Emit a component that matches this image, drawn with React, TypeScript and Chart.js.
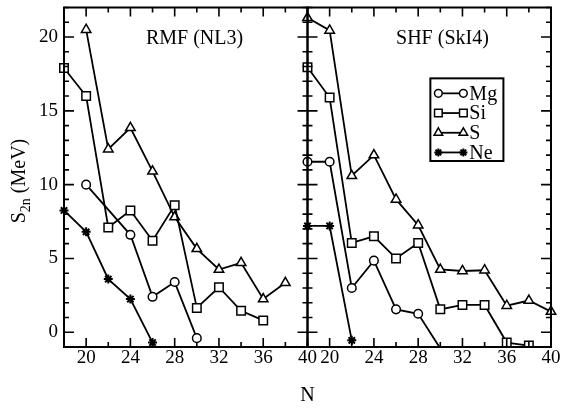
import React, { useEffect, useRef } from 'react';
import { Chart, registerables } from 'chart.js';
import { drawPoint } from 'chart.js/helpers';

Chart.register(...registerables);

// ---------------- data ----------------
const NEUTRONS = [18, 20, 22, 24, 26, 28, 30, 32, 34, 36, 38, 40];
const SPECIES = ['Mg', 'Si', 'S', 'Ne'];

// RMF (NL3) panel
const RMF_MG = [null, 10.0, null, 6.6, 2.4, 3.4, -0.4, null, null, null, null, null];
const RMF_SI = [17.9, 16.0, 7.1, 8.25, 6.2, 8.6, 1.65, 3.05, 1.45, 0.8, null, null];
const RMF_S = [null, 20.5, 12.4, 13.85, 10.9, 7.8, 5.65, 4.25, 4.7, 2.25, 3.35, null];
const RMF_NE = [8.25, 6.8, 3.6, 2.25, -0.7, null, null, null, null, null, null, null];

// SHF (SkI4) panel
const SHF_MG = [11.55, 11.55, 3.0, 4.85, 1.55, 1.25, -1.1, null, null, null, null, null];
const SHF_SI = [17.95, 15.9, 6.05, 6.5, 5.0, 6.05, 1.55, 1.85, 1.85, -0.7, -0.9, null];
const SHF_S = [21.3, 20.45, 10.6, 12.0, 9.0, 7.25, 4.25, 4.15, 4.2, 1.8, 2.15, 1.4];
const SHF_NE = [7.2, 7.2, -0.55, null, null, null, null, null, null, null, null, null];

const X_TICK_LABELS = [20, 24, 28, 32, 36, 40];
const Y_TICK_LABELS = [0, 5, 10, 15, 20];
const PANEL_TITLES = ['RMF (NL3)', 'SHF (SkI4)'];
const X_TITLE = 'N';
const Y_TITLE_MAIN = 'S';
const Y_TITLE_SUB = '2n';
const Y_TITLE_UNIT = ' (MeV)';

const FONT = '"Liberation Serif", "Times New Roman", serif';

const MARKERS: Record<string, { style: string; r: number; bw: number }> = {
  Mg: { style: 'circle', r: 4.3, bw: 1.5 },
  Si: { style: 'rect', r: 6, bw: 1.5 },
  S: { style: 'triangle', r: 5.5, bw: 1.5 },
  Ne: { style: 'star', r: 4.5, bw: 2 },
};

const PANELS = [
  { axis: 'xL', series: [RMF_MG, RMF_SI, RMF_S, RMF_NE] },
  { axis: 'xR', series: [SHF_MG, SHF_SI, SHF_S, SHF_NE] },
];

const Y_MIN = -1;
const Y_MAX = 22;

function buildDatasets() {
  const out: any[] = [];
  PANELS.forEach((panel) => {
    panel.series.forEach((vals, i) => {
      const sp = SPECIES[i];
      const m = MARKERS[sp];
      out.push({
        label: sp,
        xAxisID: panel.axis,
        yAxisID: 'y',
        data: NEUTRONS.map((n, k) => ({ x: n, y: vals[k] })),
        borderColor: '#000',
        borderWidth: 1.8,
        pointStyle: m.style,
        pointRadius: (c: any) => (c.raw && c.raw.y != null && c.raw.y < Y_MIN ? 0 : m.r),
        pointBorderWidth: m.bw,
        pointBackgroundColor: '#fff',
        pointBorderColor: '#000',
        spanGaps: true,
        tension: 0,
        clip: { left: false, right: false, top: 0, bottom: 0 },
      });
    });
  });
  return out;
}

const framePlugin = {
  id: 'framePlugin',
  afterDraw(chart: any) {
    const ctx = chart.ctx as CanvasRenderingContext2D;
    const y = chart.scales.y;
    ctx.save();
    ctx.strokeStyle = '#000';
    ctx.fillStyle = '#000';
    // frames and ticks
    ['xL', 'xR'].forEach((id) => {
      const xs = chart.scales[id];
      const L = xs.left, R = xs.right, T = y.top, B = y.bottom;
      ctx.lineWidth = 1.6;
      ctx.beginPath();
      xs.ticks.forEach((t: any) => {
        const px = xs.getPixelForValue(t.value);
        const len = X_TICK_LABELS.includes(t.value) ? 9 : 5;
        ctx.moveTo(px, B); ctx.lineTo(px, B - len);
        ctx.moveTo(px, T); ctx.lineTo(px, T + len);
      });
      y.ticks.forEach((t: any) => {
        const py = y.getPixelForValue(t.value);
        const len = Y_TICK_LABELS.includes(t.value) ? 10 : 5;
        ctx.moveTo(L, py); ctx.lineTo(L + len, py);
        ctx.moveTo(R, py); ctx.lineTo(R - len, py);
      });
      ctx.stroke();
      ctx.lineWidth = 2;
      ctx.strokeRect(L, T, R - L, B - T);
    });

    // panel titles
    const xL = chart.scales.xL, xR = chart.scales.xR;
    ctx.font = `20px ${FONT}`;
    ctx.textBaseline = 'middle';
    ctx.textAlign = 'left';
    ctx.fillText(PANEL_TITLES[0], xL.getPixelForValue(25.4), y.getPixelForValue(19.9));
    ctx.fillText(PANEL_TITLES[1], xR.getPixelForValue(26.0), y.getPixelForValue(19.9));

    // legend
    const lx0 = xR.getPixelForValue(29.1), lx1 = xR.getPixelForValue(35.7);
    const ly0 = y.getPixelForValue(17.2), ly1 = y.getPixelForValue(11.6);
    ctx.fillStyle = '#fff';
    ctx.fillRect(lx0, ly0, lx1 - lx0, ly1 - ly0);
    ctx.lineWidth = 2;
    ctx.strokeRect(lx0, ly0, lx1 - lx0, ly1 - ly0);
    SPECIES.forEach((sp, i) => {
      const m = MARKERS[sp];
      const ry = ly0 + 15 + i * 19.7;
      const a = lx0 + 8, b = lx0 + 33;
      ctx.strokeStyle = '#000';
      ctx.lineWidth = 1.8;
      ctx.beginPath();
      ctx.moveTo(a, ry); ctx.lineTo(b, ry);
      ctx.stroke();
      [a, b].forEach((px) => {
        ctx.fillStyle = '#fff';
        ctx.strokeStyle = '#000';
        ctx.lineWidth = m.bw;
        drawPoint(ctx, { pointStyle: m.style, radius: m.r * 0.9, rotation: 0, borderWidth: m.bw } as any, px, ry);
      });
      ctx.fillStyle = '#000';
      ctx.font = `20px ${FONT}`;
      ctx.textAlign = 'left';
      ctx.textBaseline = 'middle';
      ctx.fillText(sp, lx0 + 39, ry + 1);
    });

    // x title
    ctx.fillStyle = '#000';
    ctx.font = `20px ${FONT}`;
    ctx.textAlign = 'center';
    ctx.textBaseline = 'middle';
    ctx.fillText(X_TITLE, (chart.chartArea.left + chart.chartArea.right) / 2, 396);

    // y title (rotated, with subscript)
    ctx.save();
    ctx.translate(25, 181);
    ctx.rotate(-Math.PI / 2);
    ctx.textAlign = 'left';
    ctx.textBaseline = 'alphabetic';
    ctx.font = `20px ${FONT}`;
    const wS = ctx.measureText(Y_TITLE_MAIN).width;
    const wU = ctx.measureText(Y_TITLE_UNIT).width;
    ctx.font = `14px ${FONT}`;
    const wSub = ctx.measureText(Y_TITLE_SUB).width;
    let x0 = -(wS + wSub + wU) / 2;
    ctx.font = `20px ${FONT}`;
    ctx.fillText(Y_TITLE_MAIN, x0, 0);
    x0 += wS;
    ctx.font = `14px ${FONT}`;
    ctx.fillText(Y_TITLE_SUB, x0, 5);
    x0 += wSub;
    ctx.font = `20px ${FONT}`;
    ctx.fillText(Y_TITLE_UNIT, x0, 0);
    ctx.restore();

    ctx.restore();
  },
};

function xScale() {
  return {
    type: 'linear',
    position: 'bottom',
    stack: 'panels',
    stackWeight: 1,
    min: 18,
    max: 40,
    grid: { display: false, drawTicks: false },
    border: { display: false },
    ticks: {
      stepSize: 2,
      autoSkip: false,
      maxRotation: 0,
      minRotation: 0,
      padding: 0,
      color: '#000',
      font: { family: FONT, size: 19 },
      callback: (v: any) => (X_TICK_LABELS.includes(Number(v)) ? String(v) : ''),
    },
    afterFit: (s: any) => {
      s.height = 62;
      s.paddingLeft = 0;
      s.paddingRight = 0;
    },
  };
}

export default function App() {
  const ref = useRef<HTMLCanvasElement | null>(null);
  useEffect(() => {
    if (!ref.current) return;
    const chart = new Chart(ref.current, {
      type: 'line',
      data: { datasets: buildDatasets() },
      options: {
        animation: false,
        responsive: false,
        devicePixelRatio: 1,
        layout: { padding: { left: 0, right: 10, top: 5, bottom: 0 } },
        plugins: { legend: { display: false }, tooltip: { enabled: false } },
        scales: {
          xL: xScale(),
          xR: xScale(),
          y: {
            type: 'linear',
            position: 'left',
            min: Y_MIN,
            max: Y_MAX,
            grid: { display: false, drawTicks: false },
            border: { display: false },
            ticks: {
              stepSize: 1,
              autoSkip: false,
              padding: 6,
              color: '#000',
              font: { family: FONT, size: 19 },
              callback: (v: any) => (Y_TICK_LABELS.includes(Number(v)) ? String(v) : ''),
            },
            afterFit: (s: any) => {
              s.width = 64;
              s.paddingTop = 0;
              s.paddingBottom = 0;
            },
          },
        },
      } as any,
      plugins: [framePlugin],
    });
    return () => chart.destroy();
  }, []);
  return (
    <div style={{ position: 'fixed', left: 0, top: 0, width: 561, height: 409, background: '#fff' }}>
      <canvas ref={ref} width={561} height={409} style={{ display: 'block' }} />
    </div>
  );
}
